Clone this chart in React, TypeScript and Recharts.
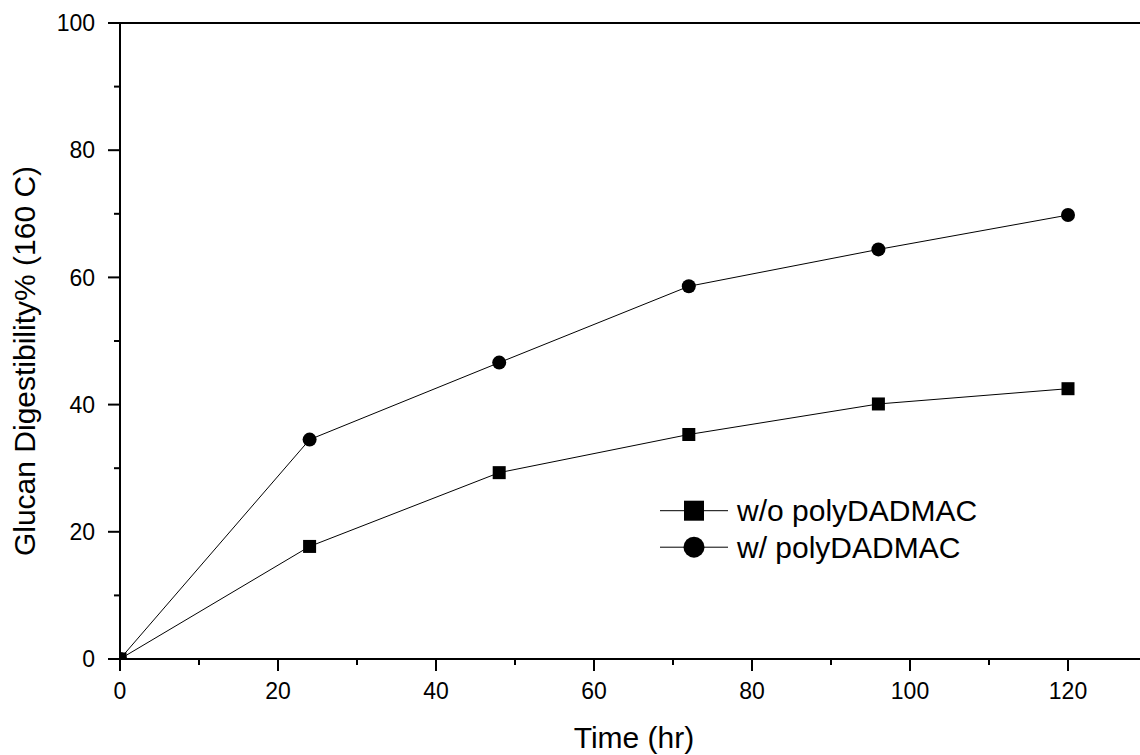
import React from "react";
import { LineChart, Line, XAxis, YAxis, Legend, ReferenceLine } from "recharts";

const times = [0, 24, 48, 72, 96, 120];
const withoutPoly = [0, 17.7, 29.3, 35.3, 40.1, 42.5];
const withPoly = [0, 34.5, 46.6, 58.6, 64.4, 69.8];
const seriesNames = ["w/o polyDADMAC", "w/ polyDADMAC"];
const xTicks = [0, 10, 20, 30, 40, 50, 60, 70, 80, 90, 100, 110, 120];
const yTicks = [0, 10, 20, 30, 40, 50, 60, 70, 80, 90, 100];
const xTitle = "Time (hr)";
const yTitle = "Glucan Digestibility% (160 C)";

const data = times.map((t, i) => ({ t, a: withoutPoly[i], b: withPoly[i] }));

const FONT = "'Liberation Sans', Arial, sans-serif";

const XTick = (props: any) => {
  const { x, y, payload } = props;
  const major = payload.value % 20 === 0;
  return (
    <g>
      <line x1={x} y1={y} x2={x} y2={y + (major ? 12 : 6)} stroke="#000" strokeWidth={2} />
      {major && (
        <text x={x} y={y + 40} textAnchor="middle" fontFamily={FONT} fontSize={23} fill="#000">
          {payload.value}
        </text>
      )}
    </g>
  );
};

const YTick = (props: any) => {
  const { x, y, payload } = props;
  const major = payload.value % 20 === 0;
  return (
    <g>
      <line x1={x} y1={y} x2={x - (major ? 12 : 6)} y2={y} stroke="#000" strokeWidth={2} />
      {major && (
        <text x={x - 25} y={y} dy="0.36em" textAnchor="end" fontFamily={FONT} fontSize={23} fill="#000">
          {payload.value}
        </text>
      )}
    </g>
  );
};

const SquareDot = (props: any) => {
  const { cx, cy, index } = props;
  if (cx == null || cy == null) return <g key={`s${index}`} />;
  return <rect key={`s${index}`} x={cx - 6.5} y={cy - 6.5} width={13} height={13} fill="#000" />;
};

const CircleDot = (props: any) => {
  const { cx, cy, index } = props;
  if (cx == null || cy == null) return <g key={`c${index}`} />;
  return <circle key={`c${index}`} cx={cx} cy={cy} r={7} fill="#000" />;
};

const LegendContent = () => (
  <svg width={380} height={80} style={{ overflow: "visible" }}>
    {seriesNames.map((name, i) => {
      const cy = 22.7 + i * 36.5;
      return (
        <g key={name}>
          <line x1={20} y1={cy} x2={88} y2={cy} stroke="#000" strokeWidth={1} />
          {i === 0 ? (
            <rect x={54 - 10} y={cy - 10} width={20} height={20} fill="#000" />
          ) : (
            <circle cx={54} cy={cy} r={10.5} fill="#000" />
          )}
          <text x={97} y={cy + 10.5} fontFamily={FONT} fontSize={30} fill="#000">
            {name}
          </text>
        </g>
      );
    })}
  </svg>
);

const YLabel = () => (
  <text
    x={35}
    y={361}
    transform="rotate(-90, 35, 361)"
    textAnchor="middle"
    fontFamily={FONT}
    fontSize={30}
    fill="#000"
  >
    {yTitle}
  </text>
);

const XLabel = () => (
  <text x={634} y={748} textAnchor="middle" fontFamily={FONT} fontSize={30} fill="#000">
    {xTitle}
  </text>
);

export default function App() {
  return (
    <div
      style={{
        position: "absolute",
        left: 0,
        top: 0,
        width: 1140,
        height: 755,
        overflow: "hidden",
        background: "#fff",
      }}
    >
      <LineChart
        width={1160}
        height={755}
        data={data}
        margin={{ top: 23, right: 13, bottom: 0, left: 0 }}
      >
        <XAxis
          dataKey="t"
          type="number"
          domain={[0, 130]}
          ticks={xTicks}
          interval={0}
          height={96}
          tickSize={0}
          tickMargin={0}
          tickLine={false}
          tick={<XTick />}
          axisLine={{ stroke: "#000", strokeWidth: 2 }}
          allowDataOverflow
          label={<XLabel />}
        />
        <YAxis
          type="number"
          domain={[0, 100]}
          ticks={yTicks}
          interval={0}
          width={120}
          tickSize={0}
          tickMargin={0}
          tickLine={false}
          tick={<YTick />}
          axisLine={{ stroke: "#000", strokeWidth: 2 }}
          allowDataOverflow
          label={<YLabel />}
        />
        <ReferenceLine y={100} stroke="#000" strokeWidth={2} />
        <Line
          dataKey="a"
          name={seriesNames[0]}
          stroke="#000"
          strokeWidth={1}
          dot={SquareDot}
          activeDot={false}
          isAnimationActive={false}
        />
        <Line
          dataKey="b"
          name={seriesNames[1]}
          stroke="#000"
          strokeWidth={1}
          dot={CircleDot}
          activeDot={false}
          isAnimationActive={false}
        />
        <Legend
          layout="vertical"
          align="center"
          verticalAlign="middle"
          content={<LegendContent />}
          wrapperStyle={{ left: 640, top: 488, width: 380, height: 80 }}
        />
      </LineChart>
    </div>
  );
}
